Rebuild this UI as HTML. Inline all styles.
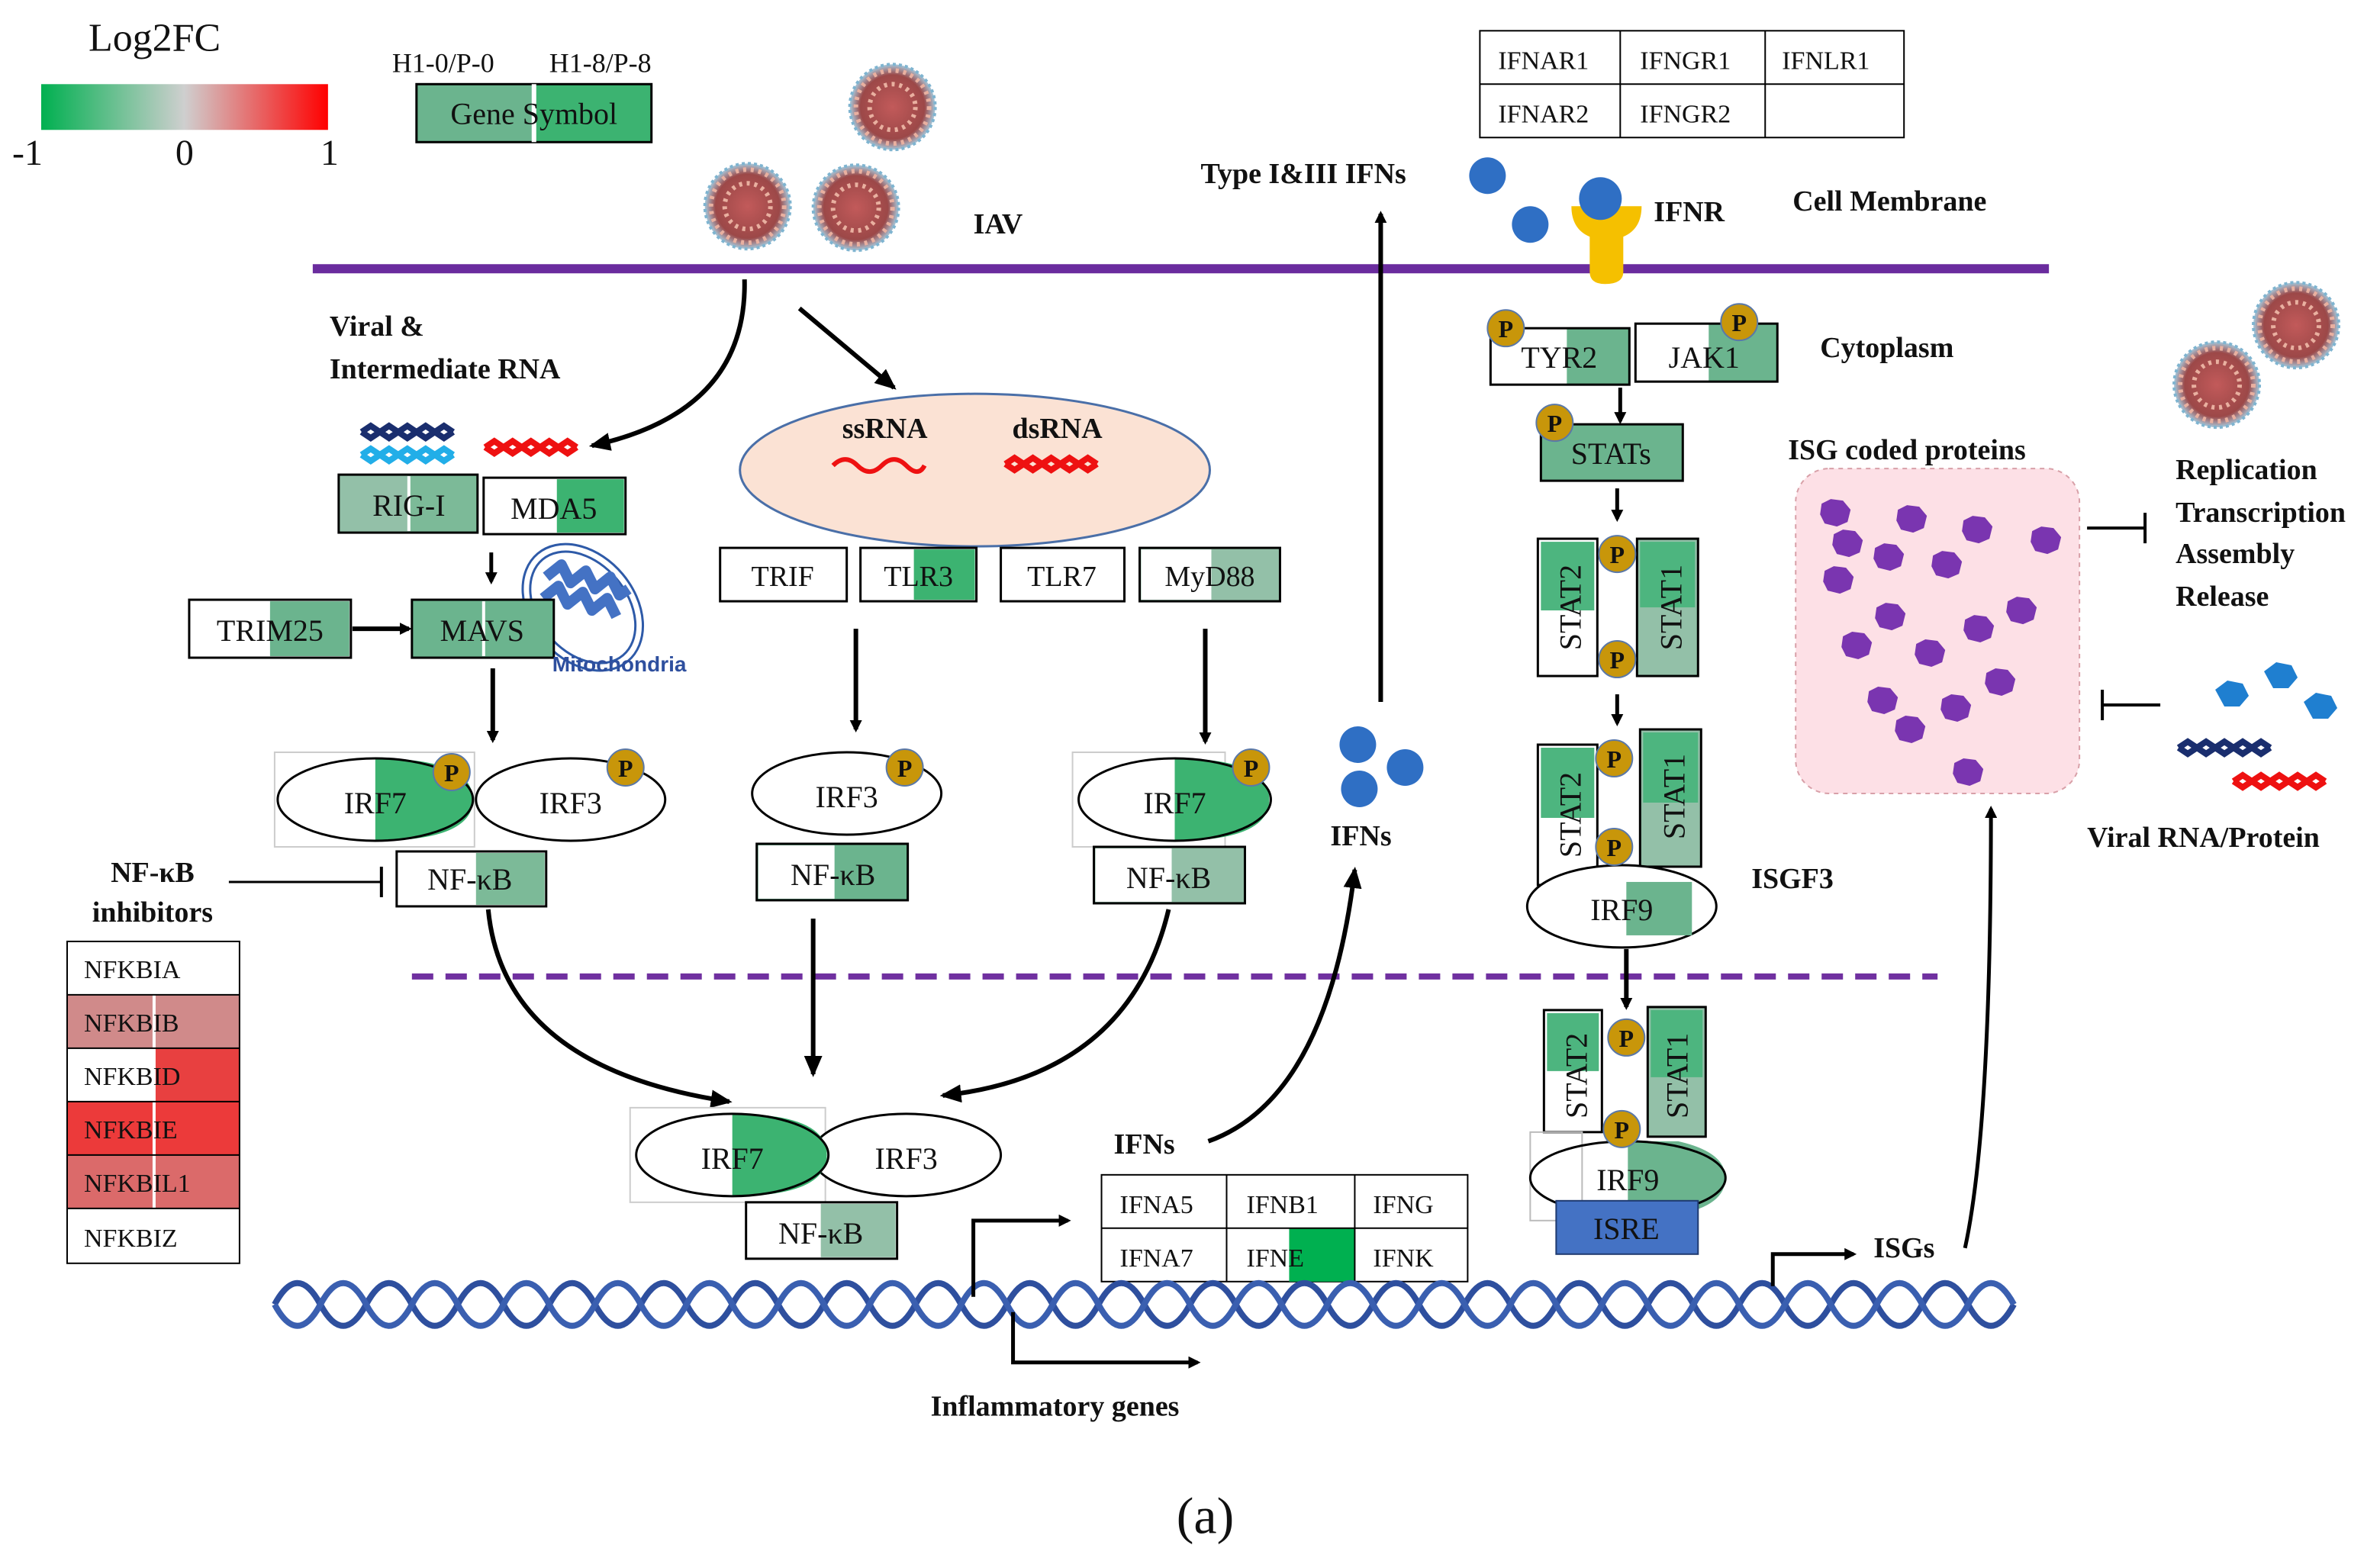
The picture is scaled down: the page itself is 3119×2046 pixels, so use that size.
<!DOCTYPE html>
<html><head><meta charset="utf-8"><style>
html,body{margin:0;padding:0;background:#fff}
svg{display:block}
text{font-family:"Liberation Serif",serif;fill:#111}
.b{font-weight:bold}
</style></head><body>
<svg width="3119" height="2046" viewBox="0 0 1560 1023" xmlns="http://www.w3.org/2000/svg">
<defs>
<marker id="ar" markerWidth="8" markerHeight="8" refX="6" refY="4" orient="auto" markerUnits="userSpaceOnUse"><path d="M0,0 L8,4 L0,8 z" fill="#000"/></marker>
<marker id="ar2" markerWidth="14" markerHeight="12" refX="12" refY="6" orient="auto" markerUnits="userSpaceOnUse"><path d="M0,0 L14,6 L0,12 z" fill="#000"/></marker>
<linearGradient id="lg" x1="0" x2="1"><stop offset="0" stop-color="#00b050"/><stop offset="0.5" stop-color="#cfcfcf"/><stop offset="1" stop-color="#ff0000"/></linearGradient>
<radialGradient id="vir"><stop offset="0" stop-color="#c25a5a"/><stop offset="0.75" stop-color="#9c4848"/><stop offset="1" stop-color="#a8c6d8"/></radialGradient>
<g id="v"><circle r="28" fill="url(#vir)"/><circle r="24" fill="none" stroke="#e9b0a0" stroke-width="3" stroke-dasharray="2 3"/><circle r="15" fill="none" stroke="#e9b0a0" stroke-width="3" stroke-dasharray="2 3"/><circle r="28" fill="none" stroke="#7fb4d0" stroke-width="2" stroke-dasharray="2 2"/></g>
<g id="p"><circle r="12" fill="#c8960a" stroke="#5a78a8" stroke-width="1"/><text x="0" y="6" text-anchor="middle" font-size="16" class="b">P</text></g>
<g id="blob"><path d="M-9,-6 L-3,-9 L5,-8 L10,-2 L8,6 L1,9 L-7,7 L-10,1 z" fill="#7a35b0"/></g>
<g id="rna"><path d="M0,0 l6,-4 l6,4 l6,-4 l6,4 l6,-4 l6,4 l6,-4 l6,4 l6,-4 l6,4 M0,0 l6,4 l6,-4 l6,4 l6,-4 l6,4 l6,-4 l6,4 l6,-4 l6,4 l6,-4" fill="none" stroke-width="4"/></g>
</defs>

<!-- legend -->
<text x="58" y="33" font-size="26">Log2FC</text>
<rect x="27" y="55" width="188" height="30" fill="url(#lg)"/>
<text x="8" y="108" font-size="24">-1</text><text x="115" y="108" font-size="24">0</text><text x="210" y="108" font-size="24">1</text>
<text x="257" y="47" font-size="18">H1-0/P-0</text><text x="360" y="47" font-size="18">H1-8/P-8</text>
<rect x="273" y="55" width="77" height="38" fill="#6bb48e"/><rect x="350" y="55" width="77" height="38" fill="#3cb371"/>
<rect x="273" y="55" width="154" height="38" fill="none" stroke="#000" stroke-width="1.5"/><line x1="350" y1="55" x2="350" y2="93" stroke="#fff" stroke-width="3"/>
<text x="350" y="81" font-size="20" text-anchor="middle">Gene Symbol</text>

<use href="#v" x="585" y="70"/><use href="#v" x="490" y="135"/><use href="#v" x="561" y="136"/>
<use href="#v" x="1505" y="213"/><use href="#v" x="1453" y="252"/>
<text x="638" y="153" font-size="19" class="b">IAV</text>

<!-- membrane -->
<line x1="205" y1="176" x2="1343" y2="176" stroke="#6a2c9e" stroke-width="6"/>
<line x1="270" y1="640" x2="1270" y2="640" stroke="#7030a0" stroke-width="4" stroke-dasharray="14 8"/>

<!-- IFN receptor table -->
<g font-size="17">
<rect x="970" y="20" width="278" height="70" fill="#fff" stroke="#000"/>
<line x1="970" y1="55" x2="1248" y2="55" stroke="#000"/><line x1="1062" y1="20" x2="1062" y2="90" stroke="#000"/><line x1="1157" y1="20" x2="1157" y2="90" stroke="#000"/>
<text x="982" y="45">IFNAR1</text><text x="1075" y="45">IFNGR1</text><text x="1168" y="45">IFNLR1</text>
<text x="982" y="80">IFNAR2</text><text x="1075" y="80">IFNGR2</text>
</g>
<text x="787" y="120" font-size="19" class="b">Type I&amp;III  IFNs</text>
<circle cx="975" cy="115" r="12" fill="#2f6fc4"/><circle cx="1003" cy="147" r="12" fill="#2f6fc4"/>
<path d="M1030,135 Q1030,150 1042,155 L1042,178 Q1042,186 1052,186 Q1064,186 1064,178 L1064,155 Q1076,150 1076,135 Z" fill="#f5c000"/>
<circle cx="1049" cy="130" r="14" fill="#2f6fc4"/>
<text x="1084" y="145" font-size="19" class="b">IFNR</text>
<text x="1175" y="138" font-size="19" class="b">Cell Membrane</text>
<line x1="905" y1="460" x2="905" y2="140" stroke="#000" stroke-width="3" marker-end="url(#ar)"/>

<!-- JAK-STAT -->
<rect x="977" y="215" width="50" height="37" fill="#fff"/><rect x="1027" y="215" width="41" height="37" fill="#6bb48e"/>
<rect x="977" y="215" width="91" height="37" fill="none" stroke="#000" stroke-width="1.5"/>
<rect x="1072" y="212" width="48" height="38" fill="#fff"/><rect x="1120" y="212" width="45" height="38" fill="#6bb48e"/>
<rect x="1072" y="212" width="93" height="38" fill="none" stroke="#000" stroke-width="1.5"/>
<text x="1022" y="241" font-size="20" text-anchor="middle">TYR2</text><text x="1117" y="241" font-size="20" text-anchor="middle">JAK1</text>
<use href="#p" x="987" y="215"/><use href="#p" x="1140" y="211"/>
<text x="1193" y="234" font-size="19" class="b">Cytoplasm</text>
<line x1="1062" y1="254" x2="1062" y2="276" stroke="#000" stroke-width="2.5" marker-end="url(#ar)"/>
<rect x="1010" y="278" width="93" height="37" fill="#6bb48e" stroke="#000" stroke-width="1.5"/>
<text x="1056" y="304" font-size="20" text-anchor="middle">STATs</text><use href="#p" x="1019" y="277"/>
<line x1="1060" y1="320" x2="1060" y2="340" stroke="#000" stroke-width="2.5" marker-end="url(#ar)"/>

<!-- STAT dimer 1 -->
<rect x="1008" y="353" width="39" height="90" fill="#fff" stroke="#000" stroke-width="1.5"/><rect x="1010" y="355" width="35" height="45" fill="#4db57f"/>
<rect x="1073" y="353" width="40" height="90" fill="#93c0a8" stroke="#000" stroke-width="1.5"/><rect x="1075" y="355" width="36" height="43" fill="#4db57f"/>
<text transform="translate(1036,398) rotate(-90)" font-size="20" text-anchor="middle">STAT2</text>
<text transform="translate(1102,398) rotate(-90)" font-size="20" text-anchor="middle">STAT1</text>
<use href="#p" x="1060" y="363"/><use href="#p" x="1060" y="432"/>
<line x1="1060" y1="455" x2="1060" y2="474" stroke="#000" stroke-width="2.5" marker-end="url(#ar)"/>

<!-- STAT dimer 2 + IRF9 -->
<rect x="1008" y="488" width="39" height="92" fill="#fff" stroke="#000" stroke-width="1.5"/><rect x="1010" y="490" width="35" height="46" fill="#4db57f"/>
<rect x="1075" y="478" width="40" height="90" fill="#93c0a8" stroke="#000" stroke-width="1.5"/><rect x="1077" y="480" width="36" height="46" fill="#4db57f"/>
<text transform="translate(1036,534) rotate(-90)" font-size="20" text-anchor="middle">STAT2</text>
<text transform="translate(1104,522) rotate(-90)" font-size="20" text-anchor="middle">STAT1</text>
<ellipse cx="1063" cy="594" rx="62" ry="27" fill="#fff" stroke="#000" stroke-width="1.5"/>
<rect x="1066" y="578" width="43" height="35" fill="#6bb48e"/>
<text x="1063" y="603" font-size="20" text-anchor="middle">IRF9</text>
<use href="#p" x="1058" y="497"/><use href="#p" x="1058" y="555"/>
<text x="1148" y="582" font-size="19" class="b">ISGF3</text>
<line x1="1066" y1="622" x2="1066" y2="660" stroke="#000" stroke-width="3" marker-end="url(#ar)"/>

<!-- STAT dimer 3 -->
<rect x="1012" y="662" width="38" height="80" fill="#fff" stroke="#000" stroke-width="1.5"/><rect x="1014" y="664" width="34" height="38" fill="#4db57f"/>
<rect x="1080" y="660" width="38" height="85" fill="#93c0a8" stroke="#000" stroke-width="1.5"/><rect x="1082" y="662" width="34" height="44" fill="#4db57f"/>
<text transform="translate(1040,705) rotate(-90)" font-size="20" text-anchor="middle">STAT2</text>
<text transform="translate(1106,705) rotate(-90)" font-size="20" text-anchor="middle">STAT1</text>
<rect x="1003" y="742" width="34" height="58" fill="none" stroke="#bbb"/>
<path d="M1067,748 L1100,748 Q1131,755 1131,772 Q1131,790 1100,796 L1067,796 Z" fill="#6bb48e"/>
<ellipse cx="1067" cy="772" rx="64" ry="24" fill="none" stroke="#000" stroke-width="1.5"/>
<text x="1067" y="780" font-size="20" text-anchor="middle">IRF9</text>
<use href="#p" x="1066" y="680"/><use href="#p" x="1063" y="740"/>
<rect x="1020" y="787" width="93" height="35" fill="#4472c4" stroke="#1f3a70"/>
<text x="1066" y="812" font-size="20" text-anchor="middle">ISRE</text>

<!-- ISG -->
<text x="1172" y="301" font-size="19" class="b">ISG coded proteins</text>
<rect x="1177" y="307" width="186" height="213" rx="22" fill="#fde0e6" stroke="#d8a0a8" stroke-dasharray="3 3"/>
<use href="#blob" x="1203" y="336"/><use href="#blob" x="1253" y="340"/><use href="#blob" x="1296" y="347"/><use href="#blob" x="1341" y="354"/>
<use href="#blob" x="1211" y="356"/><use href="#blob" x="1238" y="365"/><use href="#blob" x="1276" y="370"/><use href="#blob" x="1205" y="380"/>
<use href="#blob" x="1239" y="404"/><use href="#blob" x="1325" y="400"/><use href="#blob" x="1297" y="412"/><use href="#blob" x="1217" y="423"/>
<use href="#blob" x="1265" y="428"/><use href="#blob" x="1311" y="447"/><use href="#blob" x="1234" y="459"/><use href="#blob" x="1282" y="464"/>
<use href="#blob" x="1252" y="478"/><use href="#blob" x="1290" y="506"/>
<g font-size="19" class="b"><text x="1426" y="314" class="b">Replication</text><text x="1426" y="342" class="b">Transcription</text><text x="1426" y="369" class="b">Assembly</text><text x="1426" y="397" class="b">Release</text></g>
<line x1="1368" y1="346" x2="1406" y2="346" stroke="#000" stroke-width="2"/><line x1="1406" y1="336" x2="1406" y2="356" stroke="#000" stroke-width="2"/>
<line x1="1378" y1="462" x2="1416" y2="462" stroke="#000" stroke-width="2"/><line x1="1378" y1="452" x2="1378" y2="472" stroke="#000" stroke-width="2"/>
<g fill="#1f7fd0"><path d="M1484,440 l8,-6 l10,2 l4,8 l-6,7 l-10,0 z"/><path d="M1510,460 l8,-6 l10,2 l4,8 l-6,7 l-10,0 z"/><path d="M1452,452 l8,-6 l10,2 l4,8 l-6,7 l-10,0 z"/></g>
<use href="#rna" x="1428" y="490" stroke="#1a2e6e"/><use href="#rna" x="1464" y="512" stroke="#ee1111"/>
<text x="1368" y="555" font-size="19" class="b">Viral RNA/Protein</text>

<!-- Left pathway -->
<text x="216" y="220" font-size="19" class="b">Viral &amp;</text>
<text x="216" y="248" font-size="19" class="b">Intermediate RNA</text>
<path d="M488,183 Q490,270 388,292" fill="none" stroke="#000" stroke-width="3" marker-end="url(#ar2)"/>
<line x1="524" y1="202" x2="586" y2="254" stroke="#000" stroke-width="3" marker-end="url(#ar2)"/>
<use href="#rna" x="237" y="283" stroke="#1a2e6e"/><use href="#rna" x="237" y="298" stroke="#22aee8"/><use href="#rna" x="318" y="293" stroke="#ee1111"/>
<rect x="222" y="311" width="91" height="38" fill="#93c0a8"/><rect x="268" y="311" width="45" height="38" fill="#7cba98"/>
<rect x="222" y="311" width="91" height="38" fill="none" stroke="#000" stroke-width="1.5"/><line x1="268" y1="312" x2="268" y2="348" stroke="#fff" stroke-width="2"/>
<text x="268" y="338" font-size="20" text-anchor="middle">RIG-I</text>
<rect x="317" y="313" width="93" height="37" fill="#fff" stroke="#000" stroke-width="1.5"/><rect x="365" y="314" width="44" height="35" fill="#3cb371"/>
<text x="363" y="340" font-size="20" text-anchor="middle">MDA5</text>
<line x1="322" y1="362" x2="322" y2="381" stroke="#000" stroke-width="2.5" marker-end="url(#ar)"/>
<rect x="124" y="393" width="106" height="38" fill="#fff" stroke="#000" stroke-width="1.5"/><rect x="177" y="394" width="52" height="36" fill="#6bb48e"/>
<text x="177" y="420" font-size="20" text-anchor="middle">TRIM25</text>
<line x1="231" y1="412" x2="268" y2="412" stroke="#000" stroke-width="3" marker-end="url(#ar)"/>
<ellipse cx="382" cy="398" rx="34" ry="46" transform="rotate(-40 382 398)" fill="#fff" stroke="#2e5aa8" stroke-width="1.5"/>
<ellipse cx="382" cy="398" rx="29" ry="41" transform="rotate(-40 382 398)" fill="#fff" stroke="#2e5aa8" stroke-width="1.5"/>
<path d="M358,378 l10,-8 l6,12 l10,-8 l6,12 l10,-8 l6,12 l6,-4 M356,392 l10,-8 l6,12 l10,-8 l6,12 l10,-8 l6,12" fill="none" stroke="#4472c4" stroke-width="7" stroke-linejoin="round"/>
<rect x="270" y="393" width="93" height="38" fill="#6bb48e" stroke="#000" stroke-width="1.5"/><line x1="317" y1="394" x2="317" y2="430" stroke="#fff" stroke-width="2"/>
<text x="316" y="420" font-size="20" text-anchor="middle">MAVS</text>
<text x="362" y="440" font-size="14" style="font-family:'Liberation Sans',sans-serif;fill:#2e4f9e;font-weight:bold">Mitochondria</text>
<line x1="323" y1="438" x2="323" y2="485" stroke="#000" stroke-width="3" marker-end="url(#ar)"/>

<!-- IRF7/IRF3 left -->
<rect x="180" y="493" width="131" height="62" fill="none" stroke="#ccc"/>
<ellipse cx="374" cy="524" rx="62" ry="27" fill="#fff" stroke="#000" stroke-width="1.5"/>
<path d="M246,497 L246,551 Q310,551 310,524 Q310,497 246,497 Z" fill="#3cb371"/>
<ellipse cx="246" cy="524" rx="64" ry="27" fill="none" stroke="#000" stroke-width="1.5"/>
<text x="246" y="533" font-size="20" text-anchor="middle">IRF7</text><text x="374" y="533" font-size="20" text-anchor="middle">IRF3</text>
<use href="#p" x="296" y="506"/><use href="#p" x="410" y="503"/>
<rect x="260" y="558" width="98" height="36" fill="#fff" stroke="#000" stroke-width="1.5"/><rect x="312" y="559" width="45" height="34" fill="#7cba98"/>
<text x="308" y="583" font-size="20" text-anchor="middle">NF-κB</text>
<text x="100" y="578" font-size="19" class="b" text-anchor="middle">NF-κB</text>
<text x="100" y="604" font-size="19" class="b" text-anchor="middle">inhibitors</text>
<line x1="150" y1="578" x2="250" y2="578" stroke="#000" stroke-width="1.5"/><line x1="250" y1="568" x2="250" y2="588" stroke="#000" stroke-width="2"/>

<!-- NFKB inhibitors table -->
<g font-size="17">
<rect x="44" y="617" width="113" height="35" fill="#fff"/>
<rect x="44" y="652" width="113" height="35" fill="#d08a8a"/>
<rect x="44" y="687" width="57" height="35" fill="#fff"/><rect x="101" y="687" width="56" height="35" fill="#e84040"/>
<rect x="44" y="722" width="113" height="35" fill="#ec3a3a"/>
<rect x="44" y="757" width="113" height="35" fill="#db6a6a"/>
<rect x="44" y="792" width="113" height="36" fill="#fff"/>
<line x1="101" y1="652" x2="101" y2="792" stroke="#fff" stroke-width="2"/>
<rect x="44" y="617" width="113" height="211" fill="none" stroke="#000"/>
<g stroke="#000"><line x1="44" y1="652" x2="157" y2="652"/><line x1="44" y1="687" x2="157" y2="687"/><line x1="44" y1="722" x2="157" y2="722"/><line x1="44" y1="757" x2="157" y2="757"/><line x1="44" y1="792" x2="157" y2="792"/></g>
<text x="55" y="641">NFKBIA</text><text x="55" y="676">NFKBIB</text><text x="55" y="711">NFKBID</text><text x="55" y="746">NFKBIE</text><text x="55" y="781">NFKBIL1</text><text x="55" y="817">NFKBIZ</text>
</g>

<!-- middle pathway -->
<ellipse cx="639" cy="308" rx="154" ry="50" fill="#fbe2d4" stroke="#4a6fa8" stroke-width="1.5"/>
<text x="580" y="287" font-size="19" class="b" text-anchor="middle">ssRNA</text><text x="693" y="287" font-size="19" class="b" text-anchor="middle">dsRNA</text>
<path d="M546,305 q8,-8 16,0 t16,0 t16,0 t12,0" fill="none" stroke="#ee1111" stroke-width="3"/>
<use href="#rna" x="659" y="304" stroke="#ee1111"/>
<rect x="472" y="359" width="83" height="35" fill="#fff" stroke="#000" stroke-width="1.5"/><text x="513" y="384" font-size="19" text-anchor="middle">TRIF</text>
<rect x="564" y="359" width="76" height="35" fill="#fff" stroke="#000" stroke-width="1.5"/><rect x="599" y="360" width="40" height="33" fill="#3cb371"/><text x="602" y="384" font-size="19" text-anchor="middle">TLR3</text>
<rect x="656" y="359" width="81" height="35" fill="#fff" stroke="#000" stroke-width="1.5"/><text x="696" y="384" font-size="19" text-anchor="middle">TLR7</text>
<rect x="747" y="359" width="92" height="35" fill="#93c0a8" stroke="#000" stroke-width="1.5"/><rect x="748" y="360" width="46" height="33" fill="#fff"/><text x="793" y="384" font-size="19" text-anchor="middle">MyD88</text>
<line x1="561" y1="412" x2="561" y2="478" stroke="#000" stroke-width="3" marker-end="url(#ar)"/>
<line x1="790" y1="412" x2="790" y2="486" stroke="#000" stroke-width="3" marker-end="url(#ar)"/>
<ellipse cx="555" cy="520" rx="62" ry="27" fill="#fff" stroke="#000" stroke-width="1.5"/><text x="555" y="529" font-size="20" text-anchor="middle">IRF3</text><use href="#p" x="593" y="503"/>
<rect x="496" y="553" width="99" height="37" fill="#6bb48e" stroke="#000" stroke-width="1.5"/><rect x="497" y="554" width="50" height="35" fill="#fff"/><text x="546" y="580" font-size="20" text-anchor="middle">NF-κB</text>
<rect x="703" y="493" width="100" height="62" fill="none" stroke="#ccc"/>
<path d="M770,497 L770,551 Q832,551 832,524 Q832,497 770,497 Z" fill="#3cb371"/>
<ellipse cx="770" cy="524" rx="63" ry="27" fill="none" stroke="#000" stroke-width="1.5"/>
<text x="770" y="533" font-size="20" text-anchor="middle">IRF7</text><use href="#p" x="820" y="503"/>
<rect x="717" y="555" width="99" height="37" fill="#93c0a8" stroke="#000" stroke-width="1.5"/><rect x="718" y="556" width="50" height="35" fill="#fff"/><text x="766" y="582" font-size="20" text-anchor="middle">NF-κB</text>

<!-- converging arrows -->
<path d="M320,596 Q330,700 478,722" fill="none" stroke="#000" stroke-width="3" marker-end="url(#ar2)"/>
<line x1="533" y1="602" x2="533" y2="704" stroke="#000" stroke-width="3" marker-end="url(#ar2)"/>
<path d="M766,596 Q740,705 618,718" fill="none" stroke="#000" stroke-width="3" marker-end="url(#ar2)"/>
<rect x="413" y="726" width="128" height="62" fill="none" stroke="#ccc"/>
<ellipse cx="594" cy="757" rx="62" ry="27" fill="#fff" stroke="#000" stroke-width="1.5"/>
<path d="M480,730 L480,784 Q542,784 542,757 Q542,730 480,730 Z" fill="#3cb371"/>
<ellipse cx="480" cy="757" rx="63" ry="27" fill="none" stroke="#000" stroke-width="1.5"/>
<text x="480" y="766" font-size="20" text-anchor="middle">IRF7</text><text x="594" y="766" font-size="20" text-anchor="middle">IRF3</text>
<rect x="489" y="788" width="99" height="37" fill="#fff" stroke="#000" stroke-width="1.5"/><rect x="538" y="789" width="49" height="35" fill="#93c0a8"/><text x="538" y="815" font-size="20" text-anchor="middle">NF-κB</text>

<!-- IFNs -->
<circle cx="890" cy="488" r="12" fill="#2f6fc4"/><circle cx="921" cy="503" r="12" fill="#2f6fc4"/><circle cx="891" cy="517" r="12" fill="#2f6fc4"/>
<text x="872" y="554" font-size="19" class="b">IFNs</text>
<text x="730" y="756" font-size="19" class="b">IFNs</text>
<path d="M792,748 Q870,720 888,570" fill="none" stroke="#000" stroke-width="3" marker-end="url(#ar2)"/>
<g font-size="17">
<rect x="722" y="770" width="240" height="70" fill="#fff" stroke="#000"/>
<rect x="845" y="805" width="43" height="35" fill="#00b050"/>
<line x1="722" y1="805" x2="962" y2="805" stroke="#000"/><line x1="804" y1="770" x2="804" y2="840" stroke="#000"/><line x1="888" y1="770" x2="888" y2="840" stroke="#000"/>
<text x="734" y="795">IFNA5</text><text x="817" y="795">IFNB1</text><text x="900" y="795">IFNG</text>
<text x="734" y="830">IFNA7</text><text x="817" y="830">IFNE</text><text x="900" y="830">IFNK</text>
</g>

<!-- DNA -->
<path d="M180,855 q15,-28 30,0 t30,0 t30,0 t30,0 t30,0 t30,0 t30,0 t30,0 t30,0 t30,0 t30,0 t30,0 t30,0 t30,0 t30,0 t30,0 t30,0 t30,0 t30,0 t30,0 t30,0 t30,0 t30,0 t30,0 t30,0 t30,0 t30,0 t30,0 t30,0 t30,0 t30,0 t30,0 t30,0 t30,0 t30,0 t30,0 t30,0 t30,0" fill="none" stroke="#2e4f9e" stroke-width="4"/>
<path d="M180,855 q15,28 30,0 t30,0 t30,0 t30,0 t30,0 t30,0 t30,0 t30,0 t30,0 t30,0 t30,0 t30,0 t30,0 t30,0 t30,0 t30,0 t30,0 t30,0 t30,0 t30,0 t30,0 t30,0 t30,0 t30,0 t30,0 t30,0 t30,0 t30,0 t30,0 t30,0 t30,0 t30,0 t30,0 t30,0 t30,0 t30,0 t30,0 t30,0" fill="none" stroke="#3a5fb0" stroke-width="4"/>
<path d="M638,850 L638,800 L700,800" fill="none" stroke="#000" stroke-width="2.5" marker-end="url(#ar)"/>
<path d="M664,860 L664,893 L785,893" fill="none" stroke="#000" stroke-width="2.5" marker-end="url(#ar)"/>
<text x="610" y="928" font-size="19" class="b">Inflammatory  genes</text>
<path d="M1162,843 L1162,822 L1215,822" fill="none" stroke="#000" stroke-width="2.5" marker-end="url(#ar)"/>
<text x="1228" y="824" font-size="19" class="b">ISGs</text>
<path d="M1288,818 Q1305,740 1305,530" fill="none" stroke="#000" stroke-width="2.5" marker-end="url(#ar)"/>

<text x="790" y="1005" font-size="34" text-anchor="middle">(a)</text>
</svg>
</body></html>
